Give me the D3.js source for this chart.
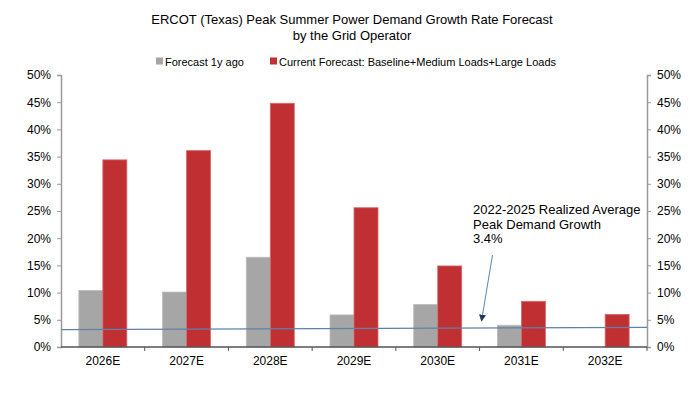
<!DOCTYPE html>
<html>
<head>
<meta charset="utf-8">
<script src="https://cdn.jsdelivr.net/npm/d3@7"></script>
<style>
  body { margin: 0; background: #fff; }
  text { font-family: "Liberation Sans", Arial, sans-serif; fill: #000; }
</style>
</head>
<body>
<svg id="chart"></svg>
<script>
const categories = ['2026E', '2027E', '2028E', '2029E', '2030E', '2031E', '2032E'];
const forecastOld = [10.4, 10.1, 16.5, 5.9, 7.8, 4.0, null];
const forecastNow = [34.4, 36.1, 44.8, 25.6, 14.9, 8.4, 6.0];
const seriesNames = ['Forecast 1y ago', 'Current Forecast: Baseline+Medium Loads+Large Loads'];
const seriesColors = ['#a6a6a6', '#c03033'];
const yTicks = [0, 5, 10, 15, 20, 25, 30, 35, 40, 45, 50];
const avgLine = [3.2, 3.6]; // drawn slightly tilted in the source
const annotation = ['2022-2025 Realized Average', 'Peak Demand Growth', '3.4%'];

const width = 700, height = 394;
const margin = {top: 75, right: 53, bottom: 47, left: 61};

const svg = d3.select('#chart').attr('width', width).attr('height', height);

const x = d3.scaleBand().domain(categories)
      .range([margin.left, width - margin.right]);
const y = d3.scaleLinear().domain([0, 50])
      .range([height - margin.bottom, margin.top]);

// title
svg.append('text')
      .attr('x', 352).attr('y', 24)
      .attr('text-anchor', 'middle')
      .style('font-size', '13px')
      .selectAll('tspan')
      .data(['ERCOT (Texas) Peak Summer Power Demand Growth Rate Forecast', 'by the Grid Operator'])
      .join('tspan')
      .attr('x', 352)
      .attr('dy', (d, i) => i ? 16 : 0)
      .text(d => d);

// legend
const legendX = [156, 270];
const legend = svg.append('g').selectAll('g')
      .data(seriesNames)
      .join('g')
      .attr('transform', (d, i) => `translate(${legendX[i]}, 61)`);
legend.append('rect')
      .attr('x', 0).attr('y', -3.5).attr('width', 7).attr('height', 7)
      .attr('fill', (d, i) => seriesColors[i]);
legend.append('text')
      .attr('x', 9).attr('y', 4.5)
      .style('font-size', '11px')
      .text(d => d);

// bars
const barW = 24;
const bars = svg.append('g');
categories.forEach((c, i) => {
      const cx = x(c) + x.bandwidth() / 2;
      [forecastOld[i], forecastNow[i]].forEach((v, k) => {
            if (v == null) return;
            bars.append('rect')
                  .attr('x', cx - barW + k * barW)
                  .attr('y', y(v))
                  .attr('width', barW)
                  .attr('height', y(0) - y(v))
                  .attr('fill', seriesColors[k])
                  .attr('stroke', k ? '#d86a6a' : '#bcbcbc')
                  .attr('stroke-width', 0.8);
      });
});

// axes
const fmt = d => d + '%';
const yLeft = svg.append('g')
      .attr('transform', `translate(${margin.left},0)`)
      .call(d3.axisLeft(y).tickValues(yTicks).tickFormat(fmt).tickSize(4).tickPadding(6));
const yRight = svg.append('g')
      .attr('transform', `translate(${width - margin.right},0)`)
      .call(d3.axisRight(y).tickValues(yTicks).tickFormat(fmt).tickSize(4).tickPadding(6));
[yLeft, yRight].forEach(g => {
      g.select('.domain').attr('stroke', '#9a9a9a').attr('stroke-width', 1.5);
      g.selectAll('.tick line').attr('stroke', '#9a9a9a');
      g.selectAll('.tick text').style('font-size', '12px').style('font-family', '"Liberation Sans", Arial, sans-serif').attr('fill', '#000');
});

// x axis with ticks at category boundaries
const xg = svg.append('g').attr('transform', `translate(0,${y(0)})`);
xg.append('line')
      .attr('x1', margin.left).attr('x2', width - margin.right)
      .attr('stroke', '#555').attr('stroke-width', 1.5);
xg.selectAll('.bnd')
      .data(categories.slice(1).concat(['end']))
      .join('line')
      .attr('x1', d => d === 'end' ? width - margin.right : x(d))
      .attr('x2', d => d === 'end' ? width - margin.right : x(d))
      .attr('y1', 0).attr('y2', 4)
      .attr('stroke', '#555');
xg.selectAll('.lbl')
      .data(categories)
      .join('text')
      .attr('x', d => x(d) + x.bandwidth() / 2)
      .attr('y', 18)
      .attr('text-anchor', 'middle')
      .style('font-size', '12px')
      .text(d => d);

// realized average line
svg.append('line')
      .attr('x1', margin.left).attr('x2', width - margin.right)
      .attr('y1', y(avgLine[0])).attr('y2', y(avgLine[1]))
      .attr('stroke', '#5f82a6').attr('stroke-width', 1.2);

// annotation
svg.append('text')
      .attr('x', 473).attr('y', 214)
      .style('font-size', '13px')
      .selectAll('tspan')
      .data(annotation)
      .join('tspan')
      .attr('x', 473)
      .attr('dy', (d, i) => i ? 14.5 : 0)
      .text(d => d);

svg.append('defs').append('marker')
      .attr('id', 'arrow')
      .attr('viewBox', '0 0 10 10')
      .attr('refX', 9).attr('refY', 5)
      .attr('markerWidth', 7).attr('markerHeight', 7)
      .attr('orient', 'auto')
      .append('path')
      .attr('d', 'M0,0 L10,5 L0,10 Z')
      .attr('fill', '#1f3a5c');

svg.append('line')
      .attr('x1', 492.5).attr('y1', 255)
      .attr('x2', 481.5).attr('y2', 321)
      .attr('stroke', '#5f82a6').attr('stroke-width', 1)
      .attr('marker-end', 'url(#arrow)');
</script>
</body>
</html>
